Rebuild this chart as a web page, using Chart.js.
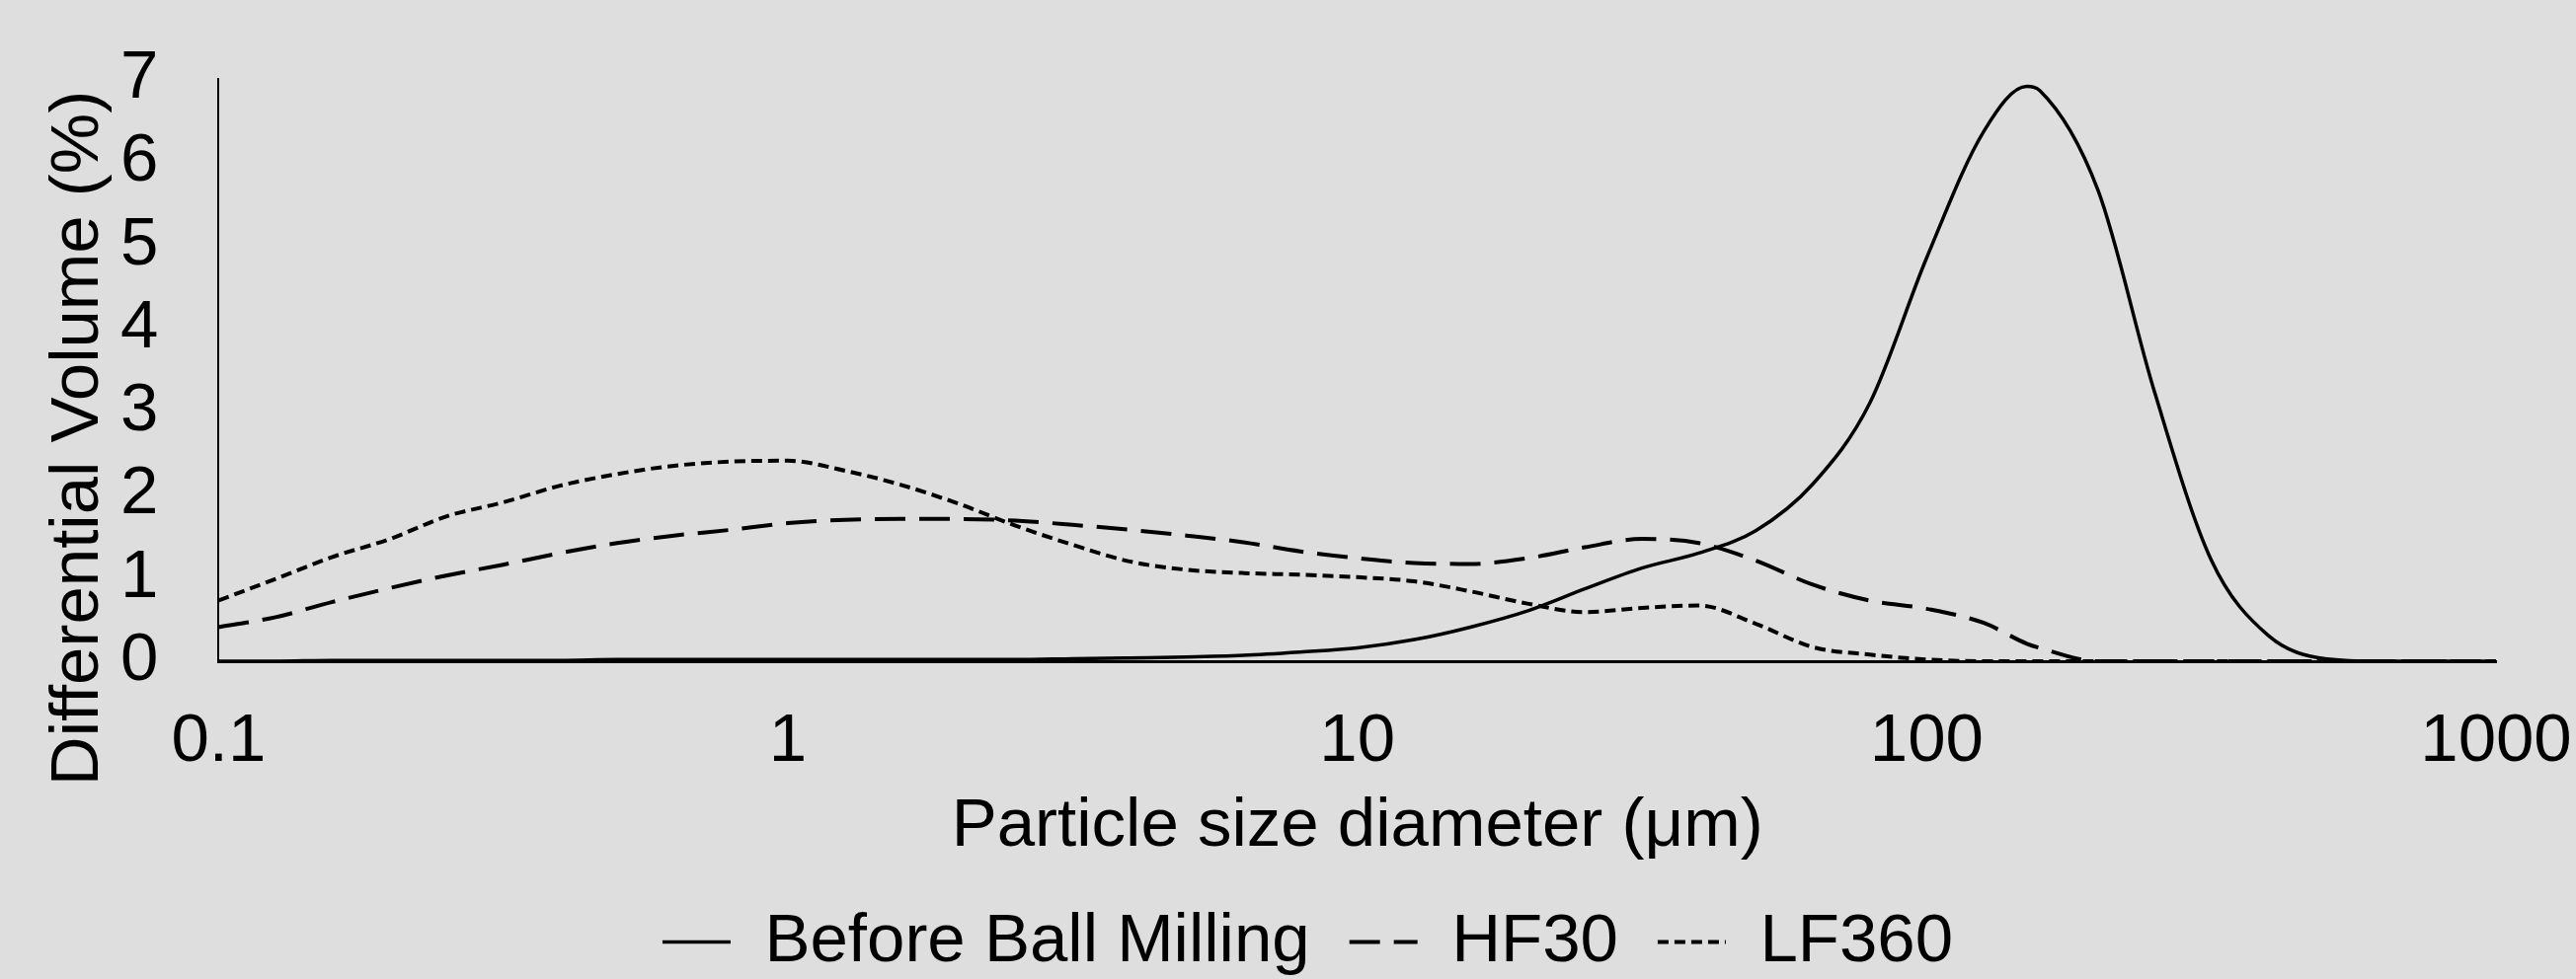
<!DOCTYPE html>
<html>
<head>
<meta charset="utf-8">
<title>Particle size distribution</title>
<script src="https://cdn.jsdelivr.net/npm/chart.js@4.4.1/dist/chart.umd.min.js"></script>
<style>
  html, body { margin: 0; padding: 0; background: #dedede; overflow: hidden; }
  #wrap { width: 2609px; height: 992px; }
</style>
</head>
<body>
<div id="wrap"><canvas id="psdChart"></canvas></div>
<script>
// particle size diameter (µm), 10 bins per decade (+ the 150 µm peak)
const sizes = [0.1, 0.126, 0.158, 0.2, 0.251, 0.316, 0.398, 0.501, 0.631, 0.794,
  1, 1.26, 1.58, 2, 2.51, 3.16, 3.98, 5.01, 6.31, 7.94,
  10, 12.6, 15.8, 20, 25.1, 31.6, 39.8, 50.1, 63.1, 79.4,
  100, 126, 150, 158, 200, 251, 316, 398, 501, 631, 794, 1000];

// differential volume (%)
const beforeMilling = [0.00, 0.00, 0.01, 0.01, 0.01, 0.01, 0.01, 0.02, 0.02, 0.02,
  0.02, 0.02, 0.02, 0.02, 0.02, 0.03, 0.04, 0.05, 0.07, 0.11,
  0.16, 0.26, 0.41, 0.61, 0.87, 1.12, 1.30, 1.57, 2.13, 3.10,
  4.85, 6.37, 6.91, 6.86, 5.66, 3.25, 1.22, 0.31, 0.03, 0.00, 0.00, 0.00];
const hf30 = [0.41, 0.53, 0.71, 0.88, 1.03, 1.16, 1.30, 1.42, 1.51, 1.58,
  1.66, 1.70, 1.71, 1.71, 1.69, 1.64, 1.58, 1.51, 1.43, 1.32,
  1.24, 1.18, 1.17, 1.24, 1.37, 1.47, 1.42, 1.21, 0.92, 0.73,
  0.63, 0.46, 0.21, 0.16, 0.00, 0.00, 0.00, 0.00, 0.00, 0.00, 0.00, 0.00];
const lf360 = [0.73, 0.99, 1.25, 1.47, 1.74, 1.91, 2.11, 2.25, 2.35, 2.40,
  2.41, 2.29, 2.12, 1.89, 1.63, 1.40, 1.20, 1.10, 1.06, 1.04,
  1.01, 0.96, 0.84, 0.69, 0.59, 0.64, 0.67, 0.45, 0.17, 0.08,
  0.02, 0.00, 0.00, 0.00, 0.00, 0.00, 0.00, 0.00, 0.00, 0.00, 0.00, 0.00];

const seriesNames = ['Before Ball Milling', 'HF30', 'LF360'];
const xTicks = [0.1, 1, 10, 100, 1000];
const yMin = 0, yMax = 7, yStep = 1;
const xTitle = 'Particle size diameter (μm)';
const yTitle = 'Differential Volume (%)';

Chart.defaults.font.family = "'Liberation Sans', Arial, sans-serif";
Chart.defaults.color = '#000';

function toPoints(values) {
    return sizes.map((s, i) => ({ x: s, y: values[i] }));
}

// y title drawn by hand so it is not squeezed to the plot height
const yTitlePlugin = {
    id: 'yTitle',
    afterDraw(chart) {
        const { ctx, chartArea } = chart;
        ctx.save();
        ctx.translate(chartArea.left - 122, (chartArea.top + chartArea.bottom) / 2 + 69);
        ctx.rotate(-Math.PI / 2);
        ctx.font = "69px 'Liberation Sans', Arial, sans-serif";
        ctx.fillStyle = '#000';
        ctx.textAlign = 'center';
        ctx.textBaseline = 'alphabetic';
        ctx.fillText(yTitle, 0, 0);
        ctx.restore();
    }
};

// nudge the legend row a little right and down, like the original
const legendShift = {
    id: 'legendShift',
    afterLayout(chart) {
        const lg = chart.legend;
        if (lg) {
            lg.left += 30;
            lg.right += 30;
            lg.top += 7;
            lg.bottom += 7;
        }
    }
};

function lineStyle(dash, width) {
    return {
        borderColor: '#000',
        backgroundColor: '#000',
        borderWidth: width,
        borderDash: dash,
        pointRadius: 0,
        fill: false,
        cubicInterpolationMode: 'monotone'
    };
}

// legend samples use the dataset line dash/width instead of the point style
function legendLabels(chart) {
    const items = Chart.defaults.plugins.legend.labels.generateLabels(chart);
    items.forEach(item => {
        const ds = chart.data.datasets[item.datasetIndex];
        item.lineDash = ds.borderDash;
        item.lineWidth = ds.borderWidth;
        item.strokeStyle = ds.borderColor;
    });
    return items;
}

const ctx = document.getElementById('psdChart').getContext('2d');
new Chart(ctx, {
    type: 'line',
    data: {
        datasets: [
            Object.assign({ label: seriesNames[0], data: toPoints(beforeMilling) }, lineStyle([], 3.5)),
            Object.assign({ label: seriesNames[1], data: toPoints(hf30) }, lineStyle([31, 14], 4)),
            Object.assign({ label: seriesNames[2], data: toPoints(lf360) }, lineStyle([11, 6], 4))
        ]
    },
    options: {
        responsive: true,
        maintainAspectRatio: false,
        animation: false,
        layout: { padding: { left: 61, right: 81, top: 80, bottom: 0 } },
        plugins: {
            legend: {
                position: 'bottom',
                labels: {
                    usePointStyle: true,
                    pointStyle: 'line',
                    pointStyleWidth: 69,
                    padding: 40,
                    color: '#000',
                    font: { size: 69 },
                    generateLabels: legendLabels
                }
            },
            tooltip: { enabled: false }
        },
        scales: {
            x: {
                type: 'logarithmic',
                min: xTicks[0],
                max: xTicks[xTicks.length - 1],
                grid: { display: false, drawTicks: false },
                border: { display: true, color: '#000', width: 3 },
                afterBuildTicks: scale => { scale.ticks = xTicks.map(v => ({ value: v })); },
                ticks: {
                    color: '#000',
                    font: { size: 69, lineHeight: '156px' },
                    padding: 4,
                    maxRotation: 0,
                    autoSkip: false,
                    callback: v => String(v)
                },
                title: {
                    display: true,
                    text: xTitle,
                    color: '#000',
                    font: { size: 69, lineHeight: '8px' },
                    padding: { top: 0, bottom: 31 }
                }
            },
            y: {
                min: yMin,
                max: yMax,
                grid: { display: false, drawTicks: false },
                border: { display: true, color: '#000', width: 2 },
                ticks: {
                    stepSize: yStep,
                    color: '#000',
                    font: { size: 69, lineHeight: '30px' },
                    padding: 61,
                    autoSkip: false
                }
            }
        }
    },
    plugins: [yTitlePlugin, legendShift]
});
</script>
</body>
</html>
